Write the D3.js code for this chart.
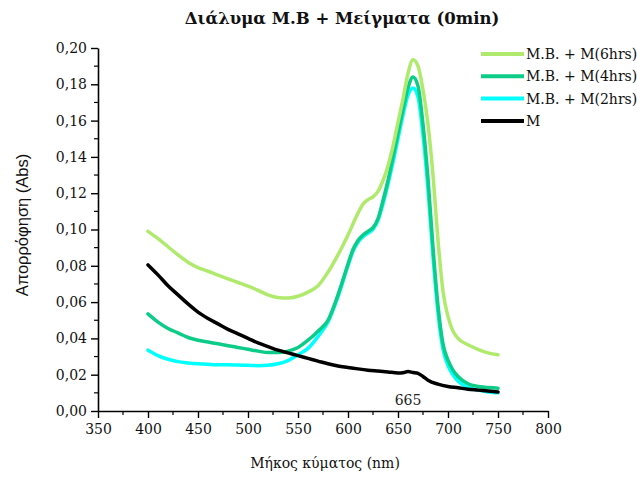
<!DOCTYPE html>
<html><head><meta charset="utf-8">
<script src="https://cdn.jsdelivr.net/npm/d3@7"></script>
<style>body{margin:0;background:#fff}svg{display:block}</style>
</head><body>
<svg id="c" width="637" height="477"></svg>
<script>
const wl6 = [400,410,420,430,440,450,460,470,480,490,500,510,520,530,540,550,560,570,580,590,600,610,615,620,625,630,635,640,645,650,655,660,665,670,675,680,685,690,695,700,705,710,720,730,740,750];
const abs6 = [0.099,0.095,0.0905,0.086,0.082,0.079,0.077,0.0748,0.0728,0.0708,0.0688,0.0665,0.064,0.0625,0.0622,0.0632,0.0655,0.069,0.0765,0.086,0.097,0.109,0.114,0.1165,0.118,0.121,0.127,0.135,0.146,0.159,0.172,0.186,0.1935,0.190,0.177,0.158,0.130,0.094,0.066,0.052,0.044,0.040,0.0365,0.034,0.032,0.031];
const wl4 = [400,410,420,430,440,450,460,470,480,490,500,510,520,530,540,550,560,570,580,590,600,605,610,615,620,625,630,635,640,645,650,655,660,665,670,675,680,685,690,695,700,705,710,720,730,740,750];
const abs4 = [0.0535,0.049,0.0455,0.043,0.0405,0.039,0.038,0.037,0.036,0.035,0.034,0.033,0.0322,0.0322,0.033,0.035,0.039,0.044,0.050,0.064,0.081,0.089,0.094,0.097,0.099,0.101,0.106,0.116,0.127,0.140,0.153,0.166,0.178,0.184,0.179,0.158,0.128,0.090,0.058,0.037,0.028,0.0225,0.019,0.015,0.0135,0.013,0.0125];
const wl2 = [400,410,420,430,440,450,460,470,480,490,500,510,520,530,540,550,560,570,580,590,600,605,610,615,620,625,630,635,640,645,650,655,660,665,670,675,680,685,690,695,700,705,710,720,730,740,750];
const abs2 = [0.0335,0.0305,0.0285,0.0272,0.0265,0.026,0.0257,0.0255,0.0255,0.0253,0.0252,0.025,0.0252,0.026,0.0278,0.031,0.0345,0.041,0.049,0.063,0.080,0.088,0.093,0.096,0.098,0.100,0.105,0.114,0.125,0.137,0.150,0.163,0.174,0.178,0.173,0.152,0.122,0.085,0.054,0.034,0.025,0.020,0.0165,0.013,0.0115,0.0105,0.010];
const wlM = [400,410,420,430,440,450,460,470,480,490,500,510,520,530,540,550,560,570,580,590,600,610,620,630,640,650,655,660,665,670,675,680,690,700,710,720,730,740,750];
const absM = [0.0805,0.075,0.069,0.064,0.059,0.0545,0.051,0.048,0.045,0.0425,0.040,0.0375,0.0355,0.0335,0.032,0.0305,0.029,0.0275,0.026,0.0248,0.024,0.0232,0.0225,0.022,0.0215,0.021,0.0211,0.0217,0.0212,0.0207,0.019,0.017,0.0148,0.0135,0.0128,0.012,0.0115,0.011,0.0105];
const seriesNames = ["M.B. + M(6hrs)","M.B. + M(4hrs)","M.B. + M(2hrs)","M"];
const seriesColors = ["#b0ea6c","#0ccc88","#00ffff","#000000"];
const xTicks = [350,400,450,500,550,600,650,700,750,800];
const yTicks = [0,0.02,0.04,0.06,0.08,0.10,0.12,0.14,0.16,0.18,0.20];
const title = "Διάλυμα M.B + Μείγματα (0min)";
const xTitle = "Μήκος κύματος (nm)";
const yTitle = "Απορρόφηση (Abs)";
const peakLabel = "665";

const svg = d3.select("#c");
const L=98,R=548,T=48,B=411;
const x = d3.scaleLinear().domain([350,800]).range([L,R]);
const y = d3.scaleLinear().domain([0,0.2]).range([B,T]);
const serif = "'DejaVu Serif', serif";
const fmt = d => d3.format(".2f")(d).replace(".",",");

const g = svg.append("g");
const xMinor = d3.range(375,800,50);
g.selectAll(".xm").data(xMinor).join("line").attr("x1",d=>x(d)).attr("x2",d=>x(d)).attr("y1",B).attr("y2",B+4).attr("stroke","#000").attr("stroke-width",1.2);
const yMinor = d3.range(0.01,0.2,0.02);
g.selectAll(".ym").data(yMinor).join("line").attr("y1",d=>y(d)).attr("y2",d=>y(d)).attr("x1",L).attr("x2",L-4).attr("stroke","#000").attr("stroke-width",1.2);

const xa = svg.append("g").attr("transform",`translate(0,${B})`).call(d3.axisBottom(x).tickValues(xTicks).tickSize(7).tickSizeOuter(0).tickPadding(6));
const ya = svg.append("g").attr("transform",`translate(${L},0)`).call(d3.axisLeft(y).tickValues(yTicks).tickFormat(fmt).tickSize(7).tickSizeOuter(0).tickPadding(4));
[xa,ya].forEach(a=>{a.selectAll("path").attr("stroke","#000").attr("stroke-width",1.6);
 a.selectAll("line").attr("stroke","#000").attr("stroke-width",1.4);
 a.selectAll("text").attr("font-family",serif).attr("font-size",14).attr("fill","#111");});

const line = d3.line().x(d=>x(d[0])).y(d=>y(d[1])).curve(d3.curveMonotoneX);
const data = [d3.zip(wl6,abs6),d3.zip(wl4,abs4),d3.zip(wl2,abs2),d3.zip(wlM,absM)];
const order=[2,1,0,3];
order.forEach(i=>{
  svg.append("path").attr("d",line(data[i])).attr("fill","none").attr("stroke",seriesColors[i]).attr("stroke-width",3.5).attr("stroke-linejoin","round").attr("stroke-linecap","round");
});

const lg = svg.append("g");
seriesNames.forEach((n,i)=>{
  const yy = 54 + i*22.3;
  lg.append("line").attr("x1",481).attr("x2",524).attr("y1",yy).attr("y2",yy).attr("stroke",seriesColors[i]).attr("stroke-width",4);
  lg.append("text").attr("x",526).attr("y",yy+5).attr("font-family",serif).attr("font-size",14).attr("fill","#111").text(n);
});

svg.append("text").attr("x",408).attr("y",405).attr("text-anchor","middle").attr("font-family",serif).attr("font-size",14).attr("fill","#222").text(peakLabel);
svg.append("text").attr("x",342).attr("y",24).attr("text-anchor","middle").attr("font-family",serif).attr("font-weight","bold").attr("font-size",16.5).attr("fill","#111").text(title);
svg.append("text").attr("x",325).attr("y",468).attr("text-anchor","middle").attr("font-family",serif).attr("font-size",14).attr("fill","#111").text(xTitle);
svg.append("text").attr("transform",`translate(28,225) rotate(-90)`).attr("text-anchor","middle").attr("font-family","'Liberation Sans', sans-serif").attr("font-size",16.5).attr("fill","#111").text(yTitle);
</script>
</body></html>
